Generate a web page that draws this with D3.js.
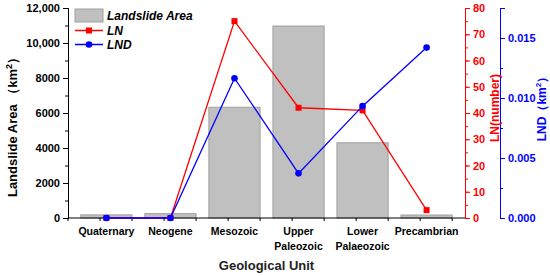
<!DOCTYPE html>
<html>
<head>
<meta charset="utf-8">
<script src="https://cdn.jsdelivr.net/npm/d3@7"></script>
<style>
  body { margin: 0; background: #fff; }
  text { font-family: "Liberation Sans", Arial, sans-serif; }
</style>
</head>
<body>
<svg width="550" height="276"></svg>
<script>
const units = ["Quaternary", "Neogene", "Mesozoic", "Upper Paleozoic", "Lower Palaeozoic", "Precambrian"];
const unitLines = [["Quaternary"], ["Neogene"], ["Mesozoic"], ["Upper", "Paleozoic"], ["Lower", "Palaeozoic"], ["Precambrian"]];
const area = [180, 250, 6330, 10970, 4300, 170];
const ln = [0, 0, 75, 42, 41, 3];
const lnd = [0, 0, 0.01165, 0.00372, 0.00932, 0.0142];

const svg = d3.select("svg");
const plotL = 68, plotR = 465, plotT = 8, plotB = 218;

const x = d3.scaleBand().domain(units).range([plotL, plotR]).padding(0.2);
const xc = d => x(d) + x.bandwidth() / 2;
const yA = d3.scaleLinear().domain([0, 12000]).range([plotB, plotT]);
const yN = d3.scaleLinear().domain([0, 80]).range([plotB, plotT]);
const yD = d3.scaleLinear().domain([0, 0.0175]).range([plotB, plotT]);

// bars
svg.append("g").selectAll("rect")
  .data(units)
  .join("rect")
    .attr("x", d => x(d))
    .attr("y", (d, i) => yA(area[i]))
    .attr("width", x.bandwidth())
    .attr("height", (d, i) => plotB - yA(area[i]))
    .attr("fill", "#c0c0c0")
    .attr("stroke", "#a0a0a0")
    .attr("stroke-width", 1);

// left axis
const gL = svg.append("g").attr("transform", "translate(" + plotL + ",0)");
gL.append("g").call(d3.axisLeft(yA).tickValues(d3.range(0, 12001, 1000)).tickSize(3).tickFormat(""));
gL.append("g").call(d3.axisLeft(yA).tickValues(d3.range(0, 12001, 2000)).tickSize(5)
  .tickFormat(d => d >= 10000 ? d3.format(",")(d) : d));
gL.selectAll("text").attr("font-size", 11).attr("font-weight", "bold").attr("fill", "#000");
gL.selectAll("path,line").attr("stroke", "#000");

// bottom axis
const gB = svg.append("g").attr("transform", "translate(0," + plotB + ")");
gB.append("line").attr("x1", plotL).attr("x2", plotR).attr("stroke", "#000");
const step = x.step();
const tickPos = d3.range(0, 13).map(i => plotL + i * step / 2);
gB.selectAll(".tk").data(tickPos).join("line")
  .attr("class", "tk")
  .attr("x1", d => d).attr("x2", d => d).attr("y1", 0).attr("y2", 3).attr("stroke", "#000");
gB.selectAll(".lbl").data(units).join("text")
  .attr("class", "lbl")
  .attr("x", d => xc(d))
  .attr("y", 17)
  .attr("text-anchor", "middle")
  .attr("font-size", 10.5)
  .attr("font-weight", "bold")
  .each(function(d, i) {
    d3.select(this).selectAll("tspan").data(unitLines[i]).join("tspan")
      .attr("x", xc(d))
      .attr("dy", (t, j) => j === 0 ? 0 : 15)
      .text(t => t);
  });

// red axis
const gR = svg.append("g").attr("transform", "translate(" + plotR + ",0)");
gR.append("g").call(d3.axisRight(yN).tickValues(d3.range(0, 81, 5)).tickSize(3).tickFormat(""));
gR.append("g").call(d3.axisRight(yN).tickValues(d3.range(0, 81, 10)).tickSize(5));
gR.selectAll("text").attr("font-size", 11).attr("font-weight", "bold").attr("fill", "#ff0000");
gR.selectAll("path,line").attr("stroke", "#ff0000");

// blue axis
const gD = svg.append("g").attr("transform", "translate(500,0)");
gD.append("g").call(d3.axisRight(yD).tickValues(d3.range(0, 0.0176, 0.0025)).tickSize(3).tickFormat(""));
gD.append("g").call(d3.axisRight(yD).tickValues([0, 0.005, 0.01, 0.015]).tickSize(5).tickFormat(d3.format(".3f")));
gD.selectAll("text").attr("font-size", 11).attr("font-weight", "bold").attr("fill", "#0000ff");
gD.selectAll("path,line").attr("stroke", "#0000ff");

// lines
const lineN = d3.line().x((d, i) => xc(units[i])).y(d => yN(d));
const lineD = d3.line().x((d, i) => xc(units[i])).y(d => yD(d));
svg.append("path").datum(ln).attr("d", lineN).attr("fill", "none").attr("stroke", "#ff0000").attr("stroke-width", 1.3);
svg.append("g").selectAll("rect").data(ln).join("rect")
  .attr("x", (d, i) => xc(units[i]) - 3).attr("y", d => yN(d) - 3)
  .attr("width", 6).attr("height", 6).attr("fill", "#ff0000");
svg.append("path").datum(lnd).attr("d", lineD).attr("fill", "none").attr("stroke", "#0000ff").attr("stroke-width", 1.3);
svg.append("g").selectAll("circle").data(lnd).join("circle")
  .attr("cx", (d, i) => xc(units[i])).attr("cy", d => yD(d))
  .attr("r", 3.3).attr("fill", "#0000ff");

// axis titles
svg.append("text")
  .attr("transform", "translate(17,124) rotate(-90)")
  .attr("text-anchor", "middle")
  .attr("font-size", 13).attr("font-weight", "bold")
  .html('Landslide Area （km<tspan dy="-5" font-size="9">2</tspan><tspan dy="5">）</tspan>');
svg.append("text")
  .attr("transform", "translate(499,108) rotate(-90)")
  .attr("text-anchor", "middle")
  .attr("font-size", 12).attr("font-weight", "bold").attr("fill", "#ff0000")
  .text("LN(number)");
svg.append("text")
  .attr("transform", "translate(546,106) rotate(-90)")
  .attr("text-anchor", "middle")
  .attr("font-size", 12).attr("font-weight", "bold").attr("fill", "#0000ff")
  .html('LND（km<tspan dy="-5" font-size="8">2</tspan><tspan dy="5">）</tspan>');
svg.append("text")
  .attr("x", (plotL + plotR) / 2).attr("y", 270)
  .attr("text-anchor", "middle")
  .attr("font-size", 13).attr("font-weight", "bold").attr("fill", "#222")
  .text("Geological Unit");

// legend
const lg = svg.append("g");
lg.append("rect").attr("x", 75).attr("y", 9).attr("width", 28).attr("height", 13)
  .attr("fill", "#c0c0c0").attr("stroke", "#a0a0a0");
lg.append("line").attr("x1", 75).attr("x2", 103).attr("y1", 30.5).attr("y2", 30.5).attr("stroke", "#ff0000").attr("stroke-width", 1.5);
lg.append("rect").attr("x", 86).attr("y", 27.5).attr("width", 6).attr("height", 6).attr("fill", "#ff0000");
lg.append("line").attr("x1", 75).attr("x2", 103).attr("y1", 44.5).attr("y2", 44.5).attr("stroke", "#0000ff").attr("stroke-width", 1.5);
lg.append("circle").attr("cx", 89).attr("cy", 44.5).attr("r", 3.3).attr("fill", "#0000ff");
const lgTxt = [["Landslide Area", 19.5], ["LN", 35], ["LND", 49]];
lg.selectAll("text").data(lgTxt).join("text")
  .attr("x", 107).attr("y", d => d[1])
  .attr("font-size", 12).attr("font-weight", "bold").attr("font-style", "italic")
  .text(d => d[0]);
</script>
</body>
</html>
